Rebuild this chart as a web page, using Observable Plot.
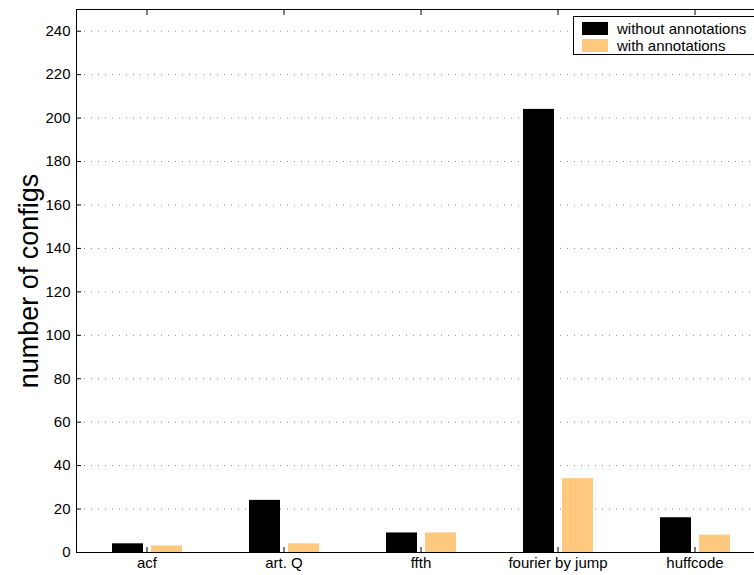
<!DOCTYPE html>
<html>
<head>
<meta charset="utf-8">
<script src="https://cdn.jsdelivr.net/npm/d3@7"></script>
<script src="https://cdn.jsdelivr.net/npm/@observablehq/plot@0.6"></script>
<style>
  body { margin: 0; background: #fff; overflow: hidden; }
  #wrap { position: relative; width: 754px; height: 575px; overflow: hidden; font-family: "Liberation Sans", Arial, sans-serif; }
  #legend { position: absolute; left: 573px; top: 16px; width: 200px; height: 37px; border: 1px solid #000; background: #fff; font-size: 15px; color: #000; }
  .item { position: absolute; left: 8px; height: 14px; line-height: 14px; white-space: nowrap; }
  .sw { display: inline-block; width: 26px; height: 13px; vertical-align: top; margin-right: 9px; }
</style>
</head>
<body>
<div id="wrap"></div>
<script>
const categories = ["acf", "art. Q", "ffth", "fourier by jump", "huffcode"];
const seriesNames = ["without annotations", "with annotations"];
const withoutAnnotations = [4, 24, 9, 204, 16];
const withAnnotations = [3, 4, 9, 34, 8];
const yTicks = [0, 20, 40, 60, 80, 100, 120, 140, 160, 180, 200, 220, 240];
const colors = ["#000000", "#ffc87f"];
const yLabel = "number of configs";

const rowsA = categories.map((c, i) => ({cat: c, series: seriesNames[0], value: withoutAnnotations[i]}));
const rowsB = categories.map((c, i) => ({cat: c, series: seriesNames[1], value: withAnnotations[i]}));

const font = "Liberation Sans, Arial, sans-serif";

const chart = Plot.plot({
  width: 754,
  height: 575,
  marginLeft: 76,
  marginRight: -10,
  marginTop: 9,
  marginBottom: 23,
  style: {fontFamily: font, background: "#fff", color: "#000", overflow: "hidden"},
  x: {domain: categories, padding: 0, axis: null},
  y: {domain: [0, 250], axis: null},
  marks: [
    Plot.ruleY(yTicks.filter(d => d > 0), {y: d => d, stroke: "#8c8c8c", strokeDasharray: "1,6", insetLeft: 8}),
    Plot.barY(rowsA, {x: "cat", y: "value", fill: colors[0], insetLeft: 34, insetRight: 72}),
    Plot.barY(rowsB, {x: "cat", y: "value", fill: colors[1], insetLeft: 73, insetRight: 33}),
    Plot.frame({stroke: "#000", strokeWidth: 1}),
    Plot.axisY(yTicks, {anchor: "left", tickSize: 0, tickPadding: 6, fontSize: 15, label: null}),
    Plot.axisY(yTicks, {anchor: "left", tickSize: -5, tickFormat: () => "", label: null}),
    Plot.axisX({anchor: "bottom", tickSize: 0, tickPadding: 5, fontSize: 15, label: null}),
    Plot.axisX({anchor: "bottom", tickSize: -5, tickFormat: () => "", label: null}),
    Plot.axisX({anchor: "top", tickSize: -5, tickFormat: () => "", label: null}),
    Plot.text([yLabel], {frameAnchor: "left", textAnchor: "middle", rotate: -90, dx: -47, fontSize: 27, fill: "#000"})
  ]
});

const wrap = document.getElementById("wrap");
wrap.appendChild(chart);

const legend = document.createElement("div");
legend.id = "legend";
seriesNames.forEach((name, i) => {
  const item = document.createElement("div");
  item.className = "item";
  item.style.top = (5 + i * 17) + "px";
  const sw = document.createElement("span");
  sw.className = "sw";
  sw.style.background = colors[i];
  item.appendChild(sw);
  item.appendChild(document.createTextNode(name));
  legend.appendChild(item);
});
wrap.appendChild(legend);
</script>
</body>
</html>
